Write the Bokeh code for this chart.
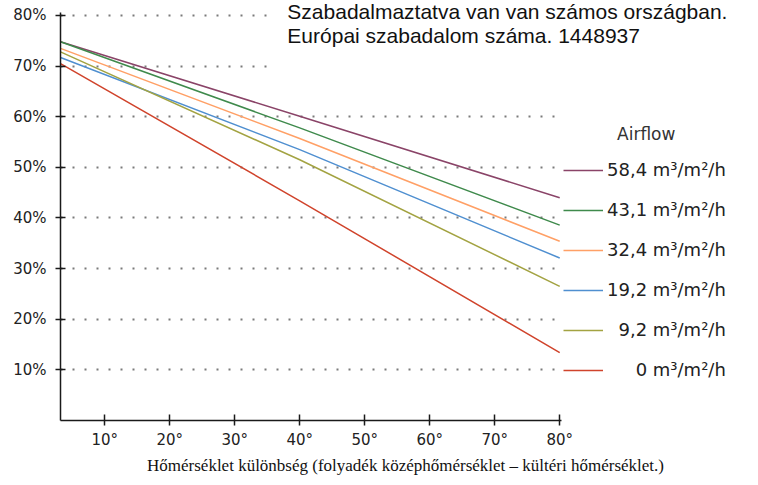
from bokeh.plotting import figure
from bokeh.models import Range1d, FixedTicker, Legend, LegendItem, BoxAnnotation, Label
from bokeh.embed import file_html
from bokeh.resources import INLINE

# ---- data ----
temp_diff = [3.2, 40, 80]
airflow_labels = ["58,4 m³/m²/h", "43,1 m³/m²/h", "32,4 m³/m²/h",
                  "19,2 m³/m²/h", "9,2 m³/m²/h", "0 m³/m²/h"]
eff_58_4 = [74.8, 60.1, 44.0]
eff_43_1 = [74.8, 57.8, 38.6]
eff_32_4 = [73.5, 55.7, 35.4]
eff_19_2 = [71.7, 53.5, 32.1]
eff_9_2 = [72.8, 51.5, 26.5]
eff_0 = [70.5, 43.4, 13.4]
series = [eff_58_4, eff_43_1, eff_32_4, eff_19_2, eff_9_2, eff_0]
colors = ["#8a4468", "#3f8a4c", "#ffa066", "#4f8fd0", "#a3a342", "#d0442c"]

x_ticks = [10, 20, 30, 40, 50, 60, 70, 80]
x_tick_labels = ["10°", "20°", "30°", "40°", "50°", "60°", "70°", "80°"]
y_ticks = [10, 20, 30, 40, 50, 60, 70, 80]
y_tick_labels = ["10%", "20%", "30%", "40%", "50%", "60%", "70%", "80%"]

x_title = "Hőmérséklet különbség (folyadék középhőmérséklet – kültéri hőmérséklet.)"
note_line1 = "Szabadalmaztatva van van számos országban."
note_line2 = "Európai szabadalom száma. 1448937"
legend_title = "Airflow"

p = figure(width=750, height=477, output_backend="svg", toolbar_location=None,
           x_range=Range1d(3.2, 109.35), y_range=Range1d(0, 82.96),
           min_border_left=60, min_border_right=0, min_border_top=0,
           min_border_bottom=57)
p.outline_line_color = None
p.background_fill_color = "white"
p.xgrid.visible = False

# axes
for ax in (p.xaxis[0], p.yaxis[0]):
    ax.axis_line_color = "#1a1a1a"
    ax.axis_line_width = 1.5
    ax.major_tick_line_color = "#1a1a1a"
    ax.major_tick_line_width = 1.5
    ax.minor_tick_line_color = None
    ax.major_label_text_font = "DejaVu Sans"
    ax.major_label_text_font_size = "15px"
    ax.major_label_text_color = "#222222"

p.xaxis.ticker = FixedTicker(ticks=x_ticks)
p.xaxis.major_label_overrides = {t: l for t, l in zip(x_ticks, x_tick_labels)}
p.xaxis.bounds = (3.2, 80.2)
p.xaxis.major_tick_in = 6
p.xaxis.major_tick_out = 5
p.xaxis.major_label_standoff = 5
p.xaxis.axis_label = x_title
p.xaxis.axis_label_text_font = "Liberation Serif"
p.xaxis.axis_label_text_font_size = "17px"
p.xaxis.axis_label_text_font_style = "normal"
p.xaxis.axis_label_text_color = "#111111"
p.xaxis.axis_label_standoff = 4

p.yaxis.ticker = FixedTicker(ticks=y_ticks)
p.yaxis.major_label_overrides = {t: l for t, l in zip(y_ticks, y_tick_labels)}
p.yaxis.bounds = (0, 80.6)
p.yaxis.major_tick_in = 5
p.yaxis.major_tick_out = 5
p.yaxis.major_label_standoff = 9

p.ygrid.grid_line_color = "#7a7a7a"
p.ygrid.grid_line_width = 2
p.ygrid.grid_line_dash = "2 10"
p.ygrid.cross_bounds = (3.2, 80)

renderers = []
for vals, col in zip(series, colors):
    r = p.line(temp_diff, vals, line_color=col, line_width=1.5)
    renderers.append(r)

# right-align labels with figure / punctuation spaces
ref_num = airflow_labels[0].split(" ")[0]
def pad(lbl):
    num = lbl.split(" ")[0]
    digits_missing = sum(c.isdigit() for c in ref_num) - sum(c.isdigit() for c in num)
    comma_missing = 1 if ("," in ref_num and "," not in num) else 0
    return "\u2007" * digits_missing + "\u2008" * comma_missing + lbl

items = [LegendItem(label=pad(l), renderers=[r]) for l, r in zip(airflow_labels, renderers)]
legend = Legend(items=items, location=(503, 40),
                title="\u00a0" * 10 + legend_title,
                title_text_font="DejaVu Sans", title_text_font_size="17px",
                title_text_font_style="normal", title_text_color="#333333",
                title_standoff=15,
                label_text_font="DejaVu Sans", label_text_font_size="18px",
                label_text_color="#222222",
                glyph_width=40, glyph_height=20, label_height=20, spacing=19,
                label_standoff=4, padding=0, margin=0,
                border_line_color=None, background_fill_color="white",
                background_fill_alpha=1.0)
p.add_layout(legend)

# white note box covering top-right
p.add_layout(BoxAnnotation(left=36.3, bottom=64.8, fill_color="white",
                           fill_alpha=1.0, line_color=None))
p.add_layout(Label(x=38.1, y=80.8, text=note_line1, text_font="Liberation Sans",
                   text_font_size="21px", text_baseline="alphabetic",
                   text_color="#111111"))
p.add_layout(Label(x=38.1, y=76.1, text=note_line2, text_font="Liberation Sans",
                   text_font_size="21px", text_baseline="alphabetic",
                   text_color="#111111"))

open("out.html", "w").write(file_html(p, INLINE))
